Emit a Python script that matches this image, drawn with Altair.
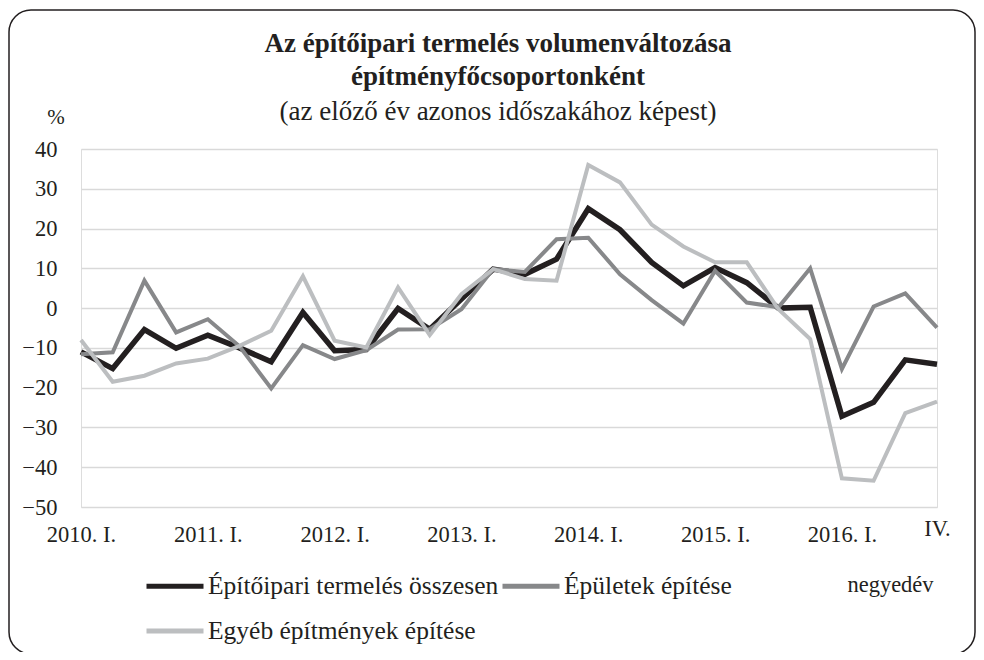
import altair as alt
import pandas as pd

quarters = list(range(28))
series_names = ["Építőipari termelés összesen", "Épületek építése", "Egyéb építmények építése"]

total = [-11.0, -15.2, -5.4, -10.1, -6.8, -10.0, -13.5, -1.1, -10.7, -10.4,
         -0.1, -5.3, 2.3, 9.8, 8.5, 12.3, 25.0, 19.7, 11.5, 5.6,
         10.2, 6.4, 0.0, 0.2, -27.2, -23.7, -13.0, -14.1]
buildings = [-11.6, -11.1, 6.9, -6.1, -2.8, -9.6, -20.2, -9.3, -12.8, -10.6,
             -5.4, -5.3, -0.3, 9.8, 9.1, 17.3, 17.7, 8.5, 2.0, -3.9,
             9.4, 1.4, 0.2, 10.0, -15.3, 0.4, 3.7, -4.9]
other = [-8.0, -18.5, -17.0, -13.9, -12.7, -9.5, -5.7, 8.0, -8.2, -9.9,
         5.2, -6.8, 3.5, 9.8, 7.3, 6.9, 36.0, 31.6, 21.0, 15.5,
         11.5, 11.5, -0.3, -7.8, -42.8, -43.4, -26.4, -23.5]

x_tick_values = [0, 4, 8, 12, 16, 20, 24, 27]
y_tick_values = [40, 30, 20, 10, 0, -10, -20, -30, -40, -50]
title_line1 = "Az építőipari termelés volumenváltozása"
title_line2 = "építményfőcsoportonként"
subtitle = "(az előző év azonos időszakához képest)"
y_unit = "%"
x_unit = "negyedév"

colors = ["#231f20", "#87888a", "#bcbec0"]
widths = [5.5, 4, 4]

FONT = "Liberation Serif, Times New Roman, DejaVu Serif, serif"
INK = "#231f20"

rows = []
for name, vals in zip(series_names, [total, buildings, other]):
    for q, v in zip(quarters, vals):
        rows.append({"q": q, "v": v, "s": name})
df = pd.DataFrame(rows)

color_scale = alt.Scale(domain=series_names, range=colors)

x_enc = alt.X("q:Q", scale=alt.Scale(domain=[0, 27], nice=False, zero=False),
              axis=alt.Axis(values=x_tick_values, grid=False, ticks=False, domain=False,
                            labelExpr="datum.value == 27 ? 'IV.' : (2010 + datum.value / 4) + '. I.'",
                            labelFont=FONT, labelFontSize=22.5, labelColor=INK,
                            labelPadding={"condition": {"test": "datum.value == 27", "value": 10}, "value": 16},
                            labelFlush=False, labelOverlap=False,
                            title=x_unit, titleFont=FONT, titleFontSize=22.5,
                            titleFontWeight="normal", titleColor=INK,
                            titleX=809, titleY=77, titleAlign="center", titleBaseline="middle"))
y_enc = alt.Y("v:Q", scale=alt.Scale(domain=[-50, 40], nice=False),
              axis=alt.Axis(values=y_tick_values, grid=True, gridColor="#d9d9d9", gridWidth=1.5,
                            ticks=False, domain=False, labelFont=FONT, labelFontSize=22.5,
                            labelColor=INK, labelPadding=24, title=None))

# legend lays entries out column by column: order chosen so row 1 holds series 1 and 2
legend_order = [series_names[0], series_names[2], series_names[1]]
legend = alt.Legend(title=None, orient="none", legendX=63, legendY=406, values=legend_order,
                    columns=2, symbolType="stroke", symbolSize=3249,
                    symbolStrokeWidth=5, labelFont=FONT, labelFontSize=25.5,
                    labelColor=INK, labelOffset=2, columnPadding=-7,
                    rowPadding=-10, labelLimit=500)

layers = []
for i, name in enumerate(series_names):
    layers.append(
        alt.Chart(df).transform_filter(alt.datum.s == name)
        .mark_line(strokeWidth=widths[i], strokeJoin="miter")
        .encode(x=x_enc, y=y_enc,
                color=alt.Color("s:N", scale=color_scale, legend=legend))
    )

one = pd.DataFrame({"a": [0]})
frame = alt.Chart(one).mark_rect(
    fill=None, stroke=INK, strokeWidth=1.5, cornerRadius=22
).encode(x=alt.value(-72), x2=alt.value(894), y=alt.value(-139), y2=alt.value(505))

def txt(t, x, y, size, weight="normal"):
    return alt.Chart(one).mark_text(text=t, font=FONT, fontSize=size, fontWeight=weight,
                                    color=INK, align="center", baseline="alphabetic").encode(
        x=alt.value(x), y=alt.value(y))

texts = [
    txt(title_line1, 417, -97, 27, "bold"),
    txt(title_line2, 417, -64, 27, "bold"),
    txt(subtitle, 417, -29, 27),
    txt(y_unit, -25, -25, 21),
]

chart = alt.layer(frame, *layers, *texts).properties(
    width=856, height=358,
    autosize=alt.AutoSizeParams(type="none"),
    padding={"left": 73, "top": 141, "right": 39, "bottom": 145},
).configure_view(stroke=INK, strokeWidth=2.5).configure(background="white")

chart.save("out.html", embed_options={"renderer": "svg", "actions": False})
